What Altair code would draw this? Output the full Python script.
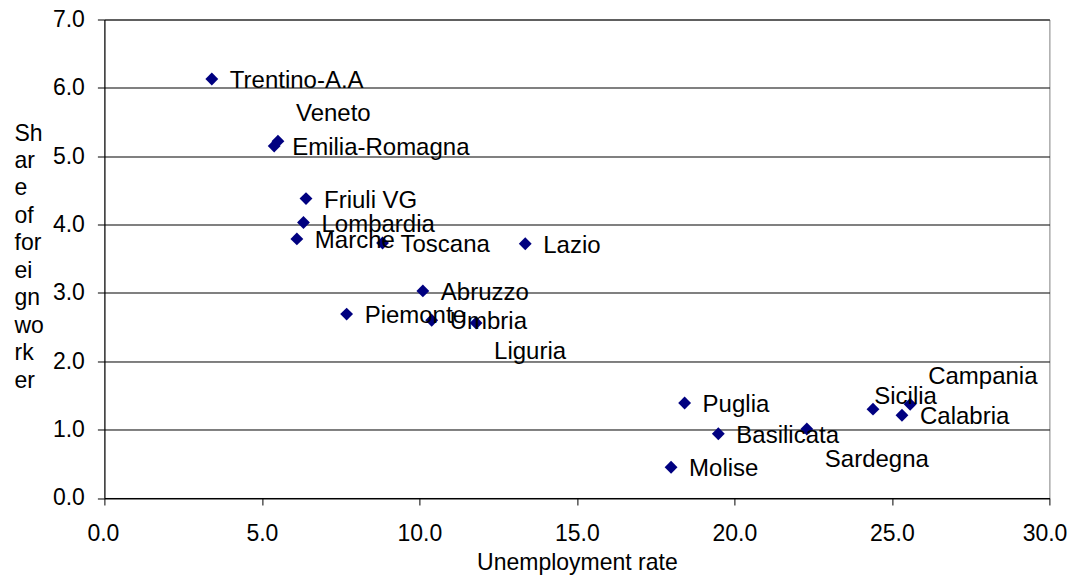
import altair as alt
import pandas as pd

regions = ["Trentino-A.A", "Veneto", "Emilia-Romagna", "Friuli VG", "Lombardia",
           "Marche", "Toscana", "Lazio", "Abruzzo", "Piemonte", "Umbria", "Liguria",
           "Puglia", "Basilicata", "Molise", "Sardegna", "Sicilia", "Calabria", "Campania"]
unemployment = [3.41, 5.51, 5.39, 6.40, 6.32, 6.11, 8.83, 13.36, 10.11, 7.69, 10.39, 11.80,
                18.42, 19.49, 17.99, 22.30, 24.40, 25.32, 25.58]
foreign_share = [6.13, 5.22, 5.15, 4.38, 4.03, 3.79, 3.73, 3.72, 3.03, 2.69, 2.60, 2.56,
                 1.39, 0.94, 0.45, 1.01, 1.30, 1.21, 1.37]
# data-label anchor positions (data units); most labels sit beside their point
label_x = [3.41, 5.51, 5.39, 6.40, 6.32, 6.11, 8.83, 13.36, 10.11, 7.69, 10.39, 11.80,
           18.42, 19.49, 17.99, 22.30, 23.87, 25.32, 25.58]
label_y = [6.13, 5.64, 5.15, 4.38, 4.03, 3.79, 3.73, 3.72, 3.03, 2.69, 2.60, 2.17,
           1.39, 0.94, 0.45, 0.585, 1.51, 1.21, 1.80]

x_ticks = [0, 5, 10, 15, 20, 25, 30]
y_ticks = [0, 1, 2, 3, 4, 5, 6, 7]
y_title = ["Sh", "ar", "e", "of", "for", "ei", "gn", "wo", "rk", "er"]

df = pd.DataFrame({
    "region": regions,
    "unemployment": unemployment,
    "share": foreign_share,
    "lx": label_x,
    "ly": label_y,
})

FONT = "Liberation Sans"

x_scale = alt.Scale(domain=[0, 30], nice=False, zero=False)
y_scale = alt.Scale(domain=[0, 7], nice=False, zero=False)

points = alt.Chart(df).mark_point(
    shape="diamond", filled=True, size=165, color="#000080", opacity=1
).encode(
    x=alt.X("unemployment:Q", scale=x_scale,
            axis=alt.Axis(values=x_ticks, format=".1f", title="Unemployment rate",
                          grid=False, tickSize=7, labelPadding=18,
                          labelFlush=True, labelFlushOffset=17.5,
                          titlePadding=6)),
    y=alt.Y("share:Q", scale=y_scale,
            axis=alt.Axis(values=y_ticks, format=".1f", title=y_title,
                          grid=True, gridColor="black", gridWidth=1,
                          tickSize=7, labelPadding=13, labelFlush=False,
                          titleAngle=0, titleAlign="left", titleBaseline="alphabetic",
                          titleX=-90.4, titleY=120.5, titleLineHeight=27.5)),
)

labels = alt.Chart(df).mark_text(
    align="left", baseline="middle", dx=18, dy=2, fontSize=24, font=FONT, color="black"
).encode(
    x=alt.X("lx:Q", scale=x_scale),
    y=alt.Y("ly:Q", scale=y_scale),
    text="region:N",
)

chart = alt.layer(points, labels).properties(
    width=945, height=478.5,
    autosize=alt.AutoSizeParams(type="none"),
    padding={"left": 96.4, "top": 11.5, "right": 17.5, "bottom": 79},
).configure_view(
    stroke="#808080", strokeWidth=1
).configure_axis(
    labelFont=FONT, labelFontSize=23, labelColor="black",
    titleFont=FONT, titleFontSize=23, titleColor="black", titleFontWeight="normal",
    domainColor="black", tickColor="black", domainWidth=1, tickWidth=1,
)

chart.save("out.html", embed_options={"renderer": "svg", "actions": False})
